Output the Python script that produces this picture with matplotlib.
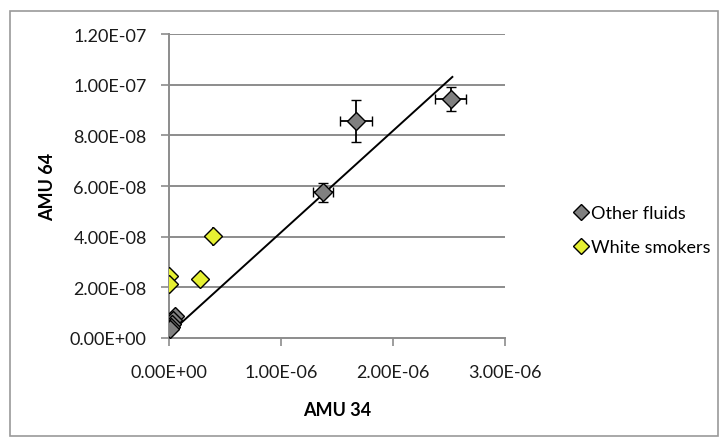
import matplotlib.pyplot as plt
from matplotlib.patches import Rectangle

plt.rcParams['font.family'] = ['Lato', 'DejaVu Sans']

# Other fluids (AMU 34, AMU 64) with errors
other_x = [2.515e-6, 1.67e-6, 1.378e-6, 0.05e-6, 0.04e-6, 0.03e-6, 0.02e-6, 0.01e-6]
other_y = [9.43e-8, 8.57e-8, 5.75e-8, 8.5e-9, 7.0e-9, 5.5e-9, 4.5e-9, 3.5e-9]
other_xerr = [0.14e-6, 0.14e-6, 0.09e-6, 0, 0, 0, 0, 0]
other_yerr = [0.47e-8, 0.84e-8, 0.38e-8, 0, 0, 0, 0, 0]

# White smokers
white_x = [0.395e-6, 0.277e-6, 0.0, 0.0]
white_y = [4.01e-8, 2.33e-8, 2.46e-8, 2.13e-8]
white_yerr = [0.38e-8, 0, 0, 0]

# trendline
trend_slope = 0.0401
trend_icpt = 1.6e-9
trend_x = [0.01e-6, 2.53e-6]

xticks = [0, 1e-6, 2e-6, 3e-6]
xlabels = ['0.00E+00', '1.00E-06', '2.00E-06', '3.00E-06']
yticks = [0, 2e-8, 4e-8, 6e-8, 8e-8, 1e-7, 1.2e-7]
ylabels = ['0.00E+00', '2.00E-08', '4.00E-08', '6.00E-08', '8.00E-08', '1.00E-07', '1.20E-07']

fig = plt.figure(figsize=(7.2, 4.39), dpi=100)
fig.patches.append(Rectangle((10 / 720, 2 / 439), 708 / 720, 425 / 439,
                             transform=fig.transFigure, fill=False,
                             edgecolor='#9a9a9a', linewidth=1.2))
ax = fig.add_axes([169 / 720, 1 - 339 / 439, 336 / 720, 304 / 439])

for y in yticks[1:]:
    ax.axhline(y, color='#8c8c8c', linewidth=1.4, zorder=1)

ax.plot(trend_x, [trend_slope * x + trend_icpt for x in trend_x],
        color='black', linewidth=1.4, zorder=2)

ax.errorbar(other_x, other_y, xerr=other_xerr, yerr=other_yerr, fmt='D',
            color='black', ecolor='black', elinewidth=1.3, capsize=3.5, capthick=1.3,
            markerfacecolor='#808080', markeredgecolor='black', markeredgewidth=1.0,
            markersize=9, label='Other fluids', zorder=4)
ax.errorbar(white_x, white_y, yerr=white_yerr, fmt='D',
            color='black', ecolor='black', elinewidth=1.1, capsize=0,
            markerfacecolor='#e6f032', markeredgecolor='black', markeredgewidth=1.0,
            markersize=9, label='White smokers', zorder=4)

ax.set_xlim(0, 3e-6)
ax.set_ylim(0, 1.2e-7)
ax.set_xticks(xticks)
ax.set_xticklabels(xlabels)
ax.set_yticks(yticks)
ax.set_yticklabels(ylabels)
ax.tick_params(axis='both', direction='out', length=6, width=1.2, color='#8c8c8c',
               labelsize=13, labelcolor='#1a1a1a')
ax.tick_params(axis='y', pad=10)
ax.tick_params(axis='x', pad=13)
for s in ['top', 'right']:
    ax.spines[s].set_visible(False)
for s in ['left', 'bottom']:
    ax.spines[s].set_color('#8c8c8c')
    ax.spines[s].set_linewidth(1.4)

ax.set_xlabel('AMU 34', fontsize=13, fontweight='bold', labelpad=15)
ax.set_ylabel('AMU 64', fontsize=13, fontweight='bold', labelpad=10)

handles, labels = ax.get_legend_handles_labels()
handles = [h[0] for h in handles]
fig.legend(handles, labels, loc='center left', bbox_to_anchor=(556 / 720, 1 - 231 / 439),
           frameon=False, fontsize=13, handletextpad=0.05, handlelength=1.0,
           labelspacing=1.0, markerscale=0.85)

fig.savefig('out.png', dpi=100)
